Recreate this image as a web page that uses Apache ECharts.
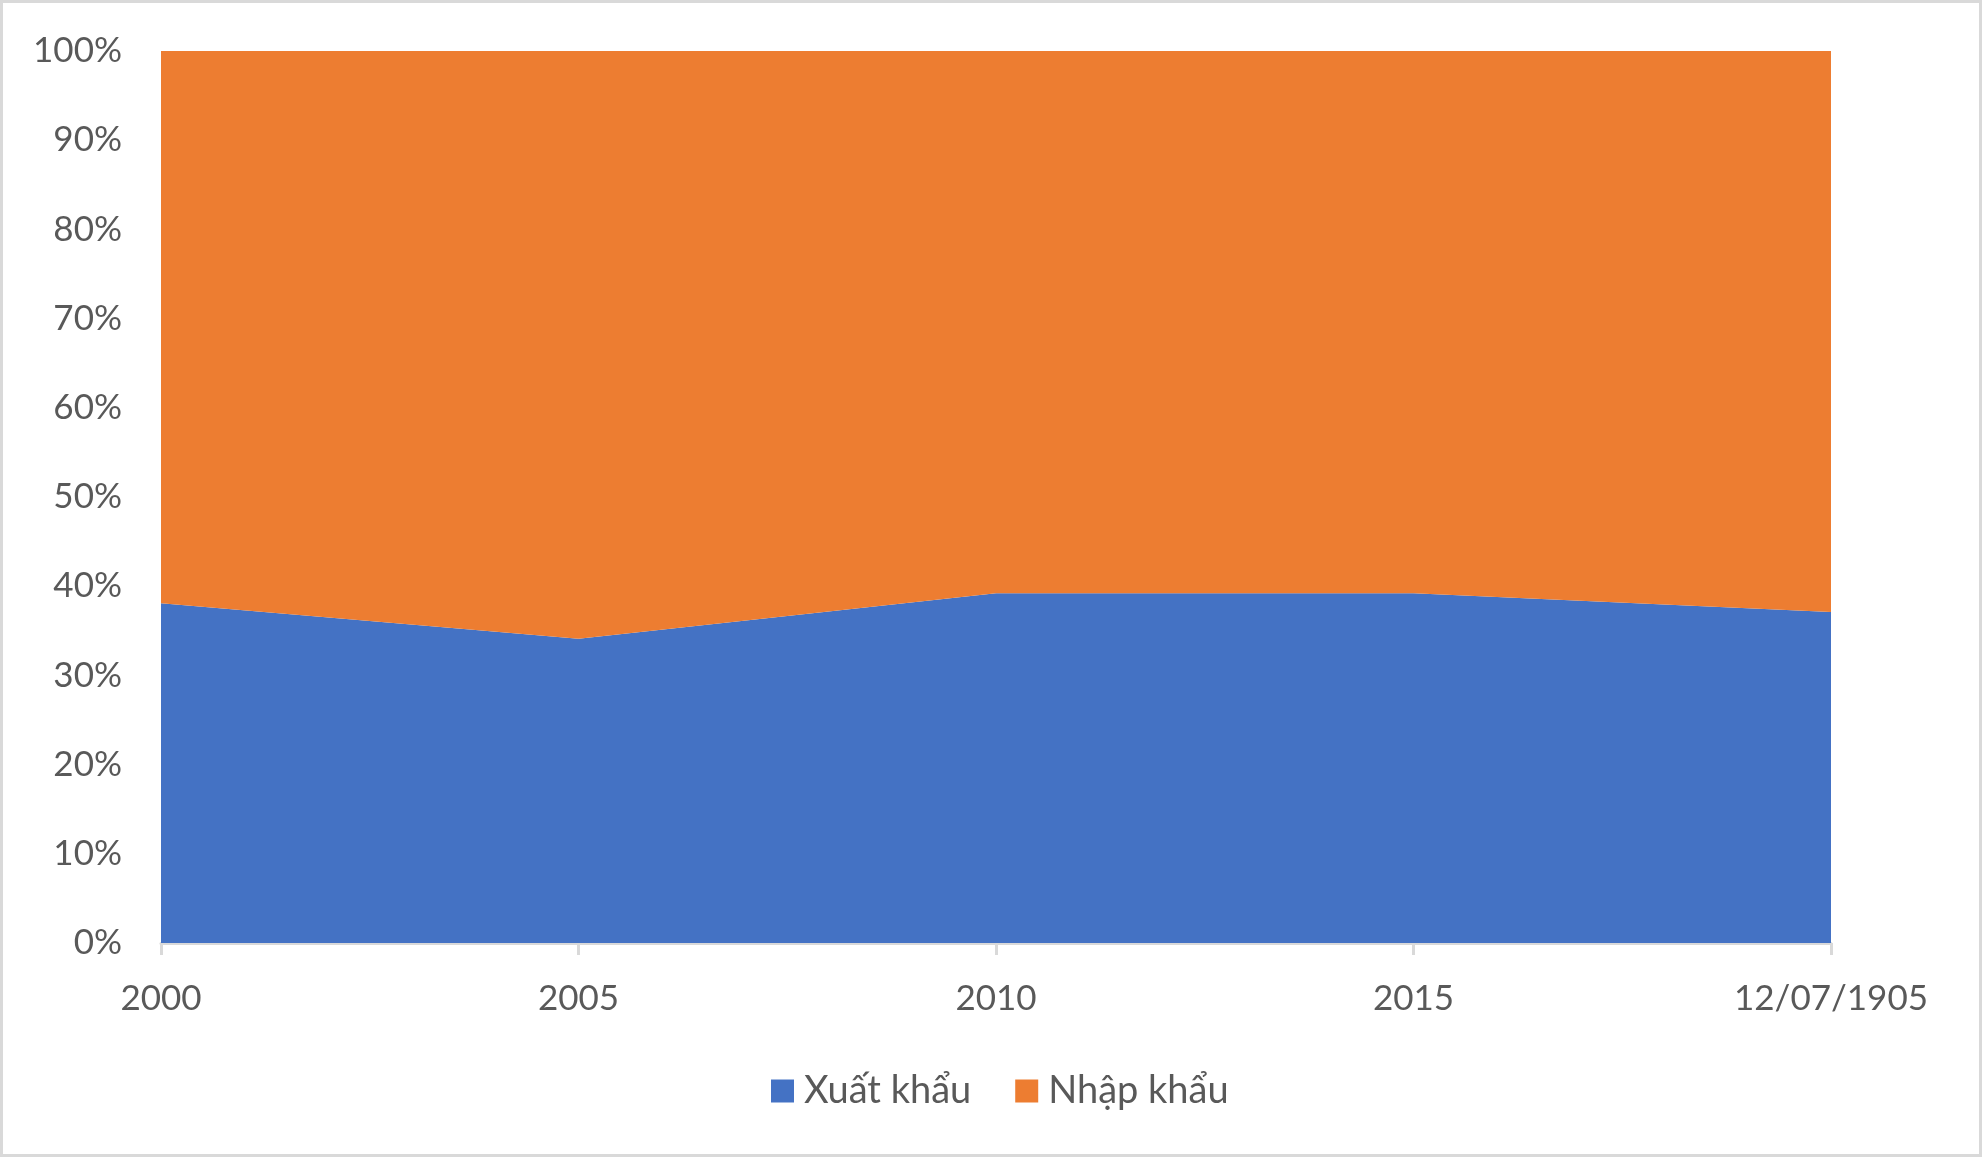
<!DOCTYPE html>
<html>
<head>
<meta charset="utf-8">
<script src="https://cdn.jsdelivr.net/npm/echarts@6/dist/echarts.min.js"></script>
<style>
html,body{margin:0;padding:0;background:#fff;}
#frame{width:1982px;height:1157px;box-sizing:border-box;border:3px solid #d9d9d9;position:relative;}
#chart{position:absolute;left:-3px;top:-3px;width:1982px;height:1157px;}
</style>
</head>
<body>
<div id="frame"><div id="chart"></div></div>
<script>
const categories = ['2000', '2005', '2010', '2015', '12/07/1905'];
const exportShare = [38.1, 34.1, 39.2, 39.2, 37.1];
const importShare = [61.9, 65.9, 60.8, 60.8, 62.9];
const seriesNames = ['Xuất khẩu', 'Nhập khẩu'];

const chart = echarts.init(document.getElementById('chart'));
const font = 'Lato, "Open Sans", sans-serif';
chart.setOption({
  animation: false,
  backgroundColor: 'transparent',
  grid: {left: 161, right: 151, top: 51, bottom: 214, containLabel: false},
  legend: {
    data: seriesNames,
    left: 766, top: 1067,
    itemWidth: 23, itemHeight: 23, itemGap: 44,
    icon: 'rect',
    textStyle: {fontFamily: font, fontSize: 38, color: '#595959', padding: [0, 0, 0, 5]}
  },
  xAxis: {
    type: 'category',
    data: categories,
    boundaryGap: false,
    axisLine: {lineStyle: {color: '#d9d9d9', width: 3}},
    axisTick: {show: true, length: 12, lineStyle: {color: '#d9d9d9', width: 3}},
    axisLabel: {fontFamily: font, fontSize: 35, color: '#595959', margin: 38},
    splitLine: {show: false}
  },
  yAxis: {
    type: 'value',
    min: 0, max: 100, interval: 10,
    axisLine: {show: false},
    axisTick: {show: false},
    splitLine: {show: false},
    axisLabel: {fontFamily: font, fontSize: 35, color: '#595959', margin: 39, formatter: '{value}%'}
  },
  series: [
    {
      name: seriesNames[0], type: 'line', stack: 'total', data: exportShare,
      symbol: 'none', lineStyle: {width: 0}, itemStyle: {color: '#4472C4'},
      areaStyle: {color: '#4472C4', opacity: 1}
    },
    {
      name: seriesNames[1], type: 'line', stack: 'total', data: importShare,
      symbol: 'none', lineStyle: {width: 0}, itemStyle: {color: '#ED7D31'},
      areaStyle: {color: '#ED7D31', opacity: 1}
    }
  ]
});
</script>
</body>
</html>
